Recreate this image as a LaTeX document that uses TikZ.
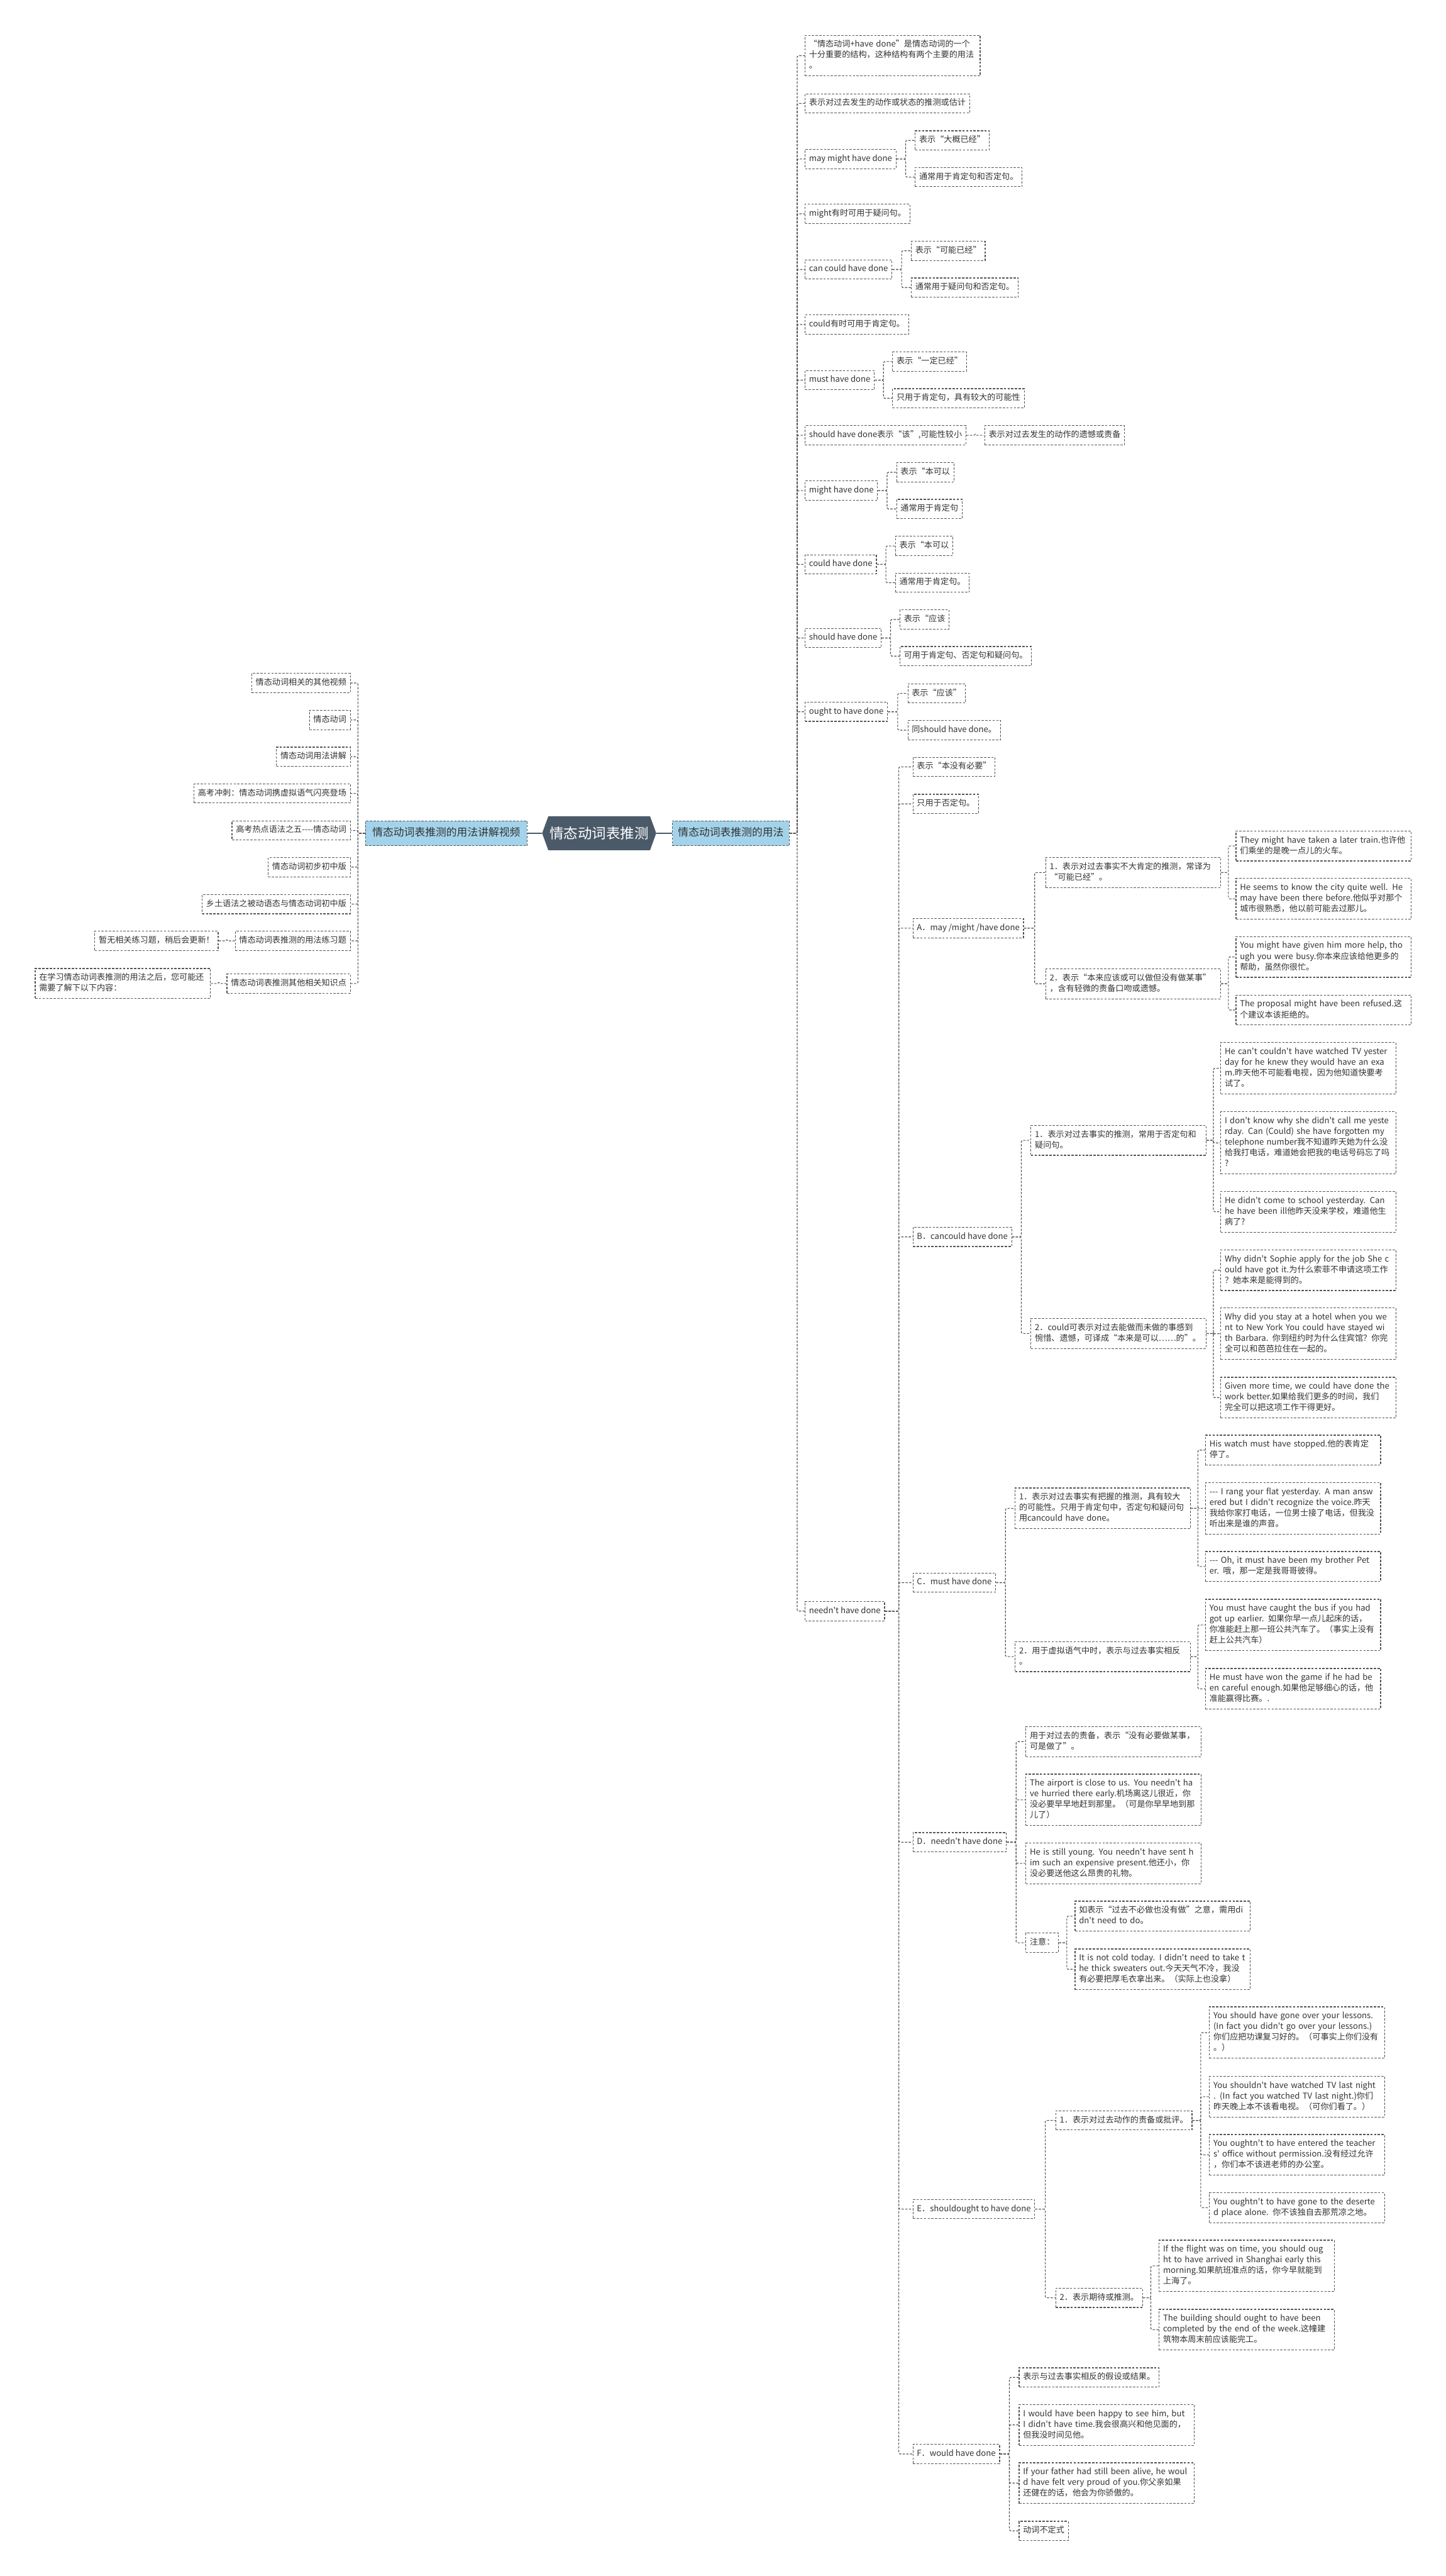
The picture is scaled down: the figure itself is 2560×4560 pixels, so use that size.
\documentclass[tikz,border=0pt]{standalone}
\usepackage{fontspec}
\setmainfont{Noto Sans CJK SC}[Ligatures=TeXOff]
\usepackage{tikz}
\usetikzlibrary{shapes,calc,positioning}

\definecolor{rootgray}{HTML}{4B5A69}
\definecolor{bluefill}{HTML}{A3D3EA}
\definecolor{linegray}{HTML}{555555}
\definecolor{textgray}{HTML}{333333}

\tikzstyle{leaf} = [rectangle,draw=linegray,line width=1.3pt,dash pattern=on 4pt off 2.5pt,
  text=textgray,inner xsep=7pt,inner ysep=7.5pt,align=left,
  font=\fontsize{14.6}{19}\selectfont,
  execute at begin node=\strut,execute at end node=\strut]
\tikzstyle{wide} = [text width=296pt]
\tikzstyle{topic} = [leaf,fill=bluefill,minimum height=44pt,inner xsep=10pt,
  font=\fontsize{18.7}{22}\selectfont]
\tikzstyle{rootnode} = [signal,signal to=west and east,signal pointer angle=140,
  fill=rootgray,text=white,minimum width=202pt,minimum height=60pt,inner xsep=0pt,
  font=\fontsize{25}{30}\selectfont]
\tikzstyle{rootlink} = [draw=rootgray,line width=2.5pt]
\tikzstyle{link} = [draw=linegray,line width=1.3pt,dash pattern=on 4pt off 2.5pt,
  rounded corners=2pt]
\tikzstyle{elbow} = [to path={-| ($(\tikztostart)!.5!(\tikztotarget)$) |- (\tikztotarget)}]

\begin{document}
\begin{tikzpicture}[x=1pt,y=-1pt]
\useasboundingbox[fill=white] (0,0) rectangle (2560,4560);

% centre
\node[rootnode] (root) at (1061,1475) {情态动词表推测};
\node[topic,anchor=west] (usage) at (1190,1475) {情态动词表推测的用法};
\node[topic,anchor=east,minimum width=286pt] (video) at (934,1475) {情态动词表推测的用法讲解视频};
\draw[rootlink] (root.east) -- (usage.west);
\draw[rootlink] (root.west) -- (video.east);

% left side
\begin{scope}[every node/.style={leaf,anchor=east}]
\node (vid1) at (621,1209) {情态动词相关的其他视频};
\node (vid2) at (621,1274.5) {情态动词};
\node (vid3) at (621,1339.5) {情态动词用法讲解};
\node (vid4) at (621,1404.5) {高考冲刺：情态动词携虚拟语气闪亮登场};
\node (vid5) at (621,1470) {高考热点语法之五-{}-{}-{}-情态动词};
\node (vid6) at (621,1535) {情态动词初步初中版};
\node (vid7) at (621,1600.5) {乡土语法之被动语态与情态动词初中版};
\node (drill) at (621,1665.5) {情态动词表推测的用法练习题};
\node (more) at (621,1741) {情态动词表推测其他相关知识点};
\node (nodrill) at (387,1665.5) {暂无相关练习题，稍后会更新！};
\node[wide] (learn) at (373,1741) {在学习情态动词表推测的用法之后，您可能还\\需要了解下以下内容：};
\end{scope}
\foreach \c in {vid1,vid2,vid3,vid4,vid5,vid6,vid7,drill,more}
  \draw[link] (video.west) to[elbow] (\c.east);
\draw[link] (drill.west) to[elbow] (nodrill.east);
\draw[link] (more.west) to[elbow] (learn.east);

% right side, first level
\begin{scope}[every node/.style={leaf,anchor=west}]
\node[wide] (intro) at (1425,98.5) {“情态动词+have done”是情态动词的一个\\十分重要的结构，这种结构有两个主要的用法\\。};
\node (estim) at (1425,183) {表示对过去发生的动作或状态的推测或估计};
\node (may) at (1425,281.5) {may might have done};
\node (mightq) at (1425,378.5) {might有时可用于疑问句。};
\node (can) at (1425,477) {can could have done};
\node (couldp) at (1425,574.5) {could有时可用于肯定句。};
\node (must) at (1425,673) {must have done};
\node (should) at (1425,770.5) {should have done表示“该”,可能性较小};
\node (mightb) at (1425,868.5) {might have done};
\node (couldb) at (1425,999) {could have done};
\node (shouldb) at (1425,1129.5) {should have done};
\node (ought) at (1425,1260) {ought to have done};
\node (needn) at (1425,2852) {needn't have done};

\node (mayA) at (1620,248.5) {表示“大概已经”};
\node (mayB) at (1620,313.5) {通常用于肯定句和否定句。};
\node (canA) at (1613,444) {表示“可能已经”};
\node (canB) at (1613,509) {通常用于疑问句和否定句。};
\node (mustA) at (1580,640) {表示“一定已经”};
\node (mustB) at (1580,705) {只用于肯定句，具有较大的可能性};
\node (shouldA) at (1743,770.5) {表示对过去发生的动作的遗憾或责备};
\node (mightbA) at (1587,836) {表示“本可以};
\node (mightbB) at (1587,901) {通常用于肯定句};
\node (couldbA) at (1585,966.5) {表示“本可以};
\node (couldbB) at (1585,1031.5) {通常用于肯定句。};
\node (shouldbA) at (1593,1096.5) {表示“应该};
\node (shouldbB) at (1593,1161.5) {可用于肯定句、否定句和疑问句。};
\node (oughtA) at (1607,1227.5) {表示“应该”};
\node (oughtB) at (1607,1292.5) {同should have done。};

% needn't have done
\node (noneed) at (1616,1357.5) {表示“本没有必要”};
\node (negonly) at (1616,1423) {只用于否定句。};
\node (pA) at (1616,1643) {A．may /might /have done};
\node (pB) at (1616,2189.5) {B．cancould have done};
\node (pC) at (1616,2801.5) {C．must have done};
\node (pD) at (1616,3261) {D．needn't have done};
\node (pE) at (1616,3910.5) {E．shouldought to have done};
\node (pF) at (1616,4344) {F．would have done};

% A
\node[wide] (pA1) at (1851,1544.5) {1．表示对过去事实不大肯定的推测，常译为\\“可能已经”。};
\node[wide] (pA2) at (1851,1741.5) {2．表示“本来应该或可以做但没有做某事”\\，含有轻微的责备口吻或遗憾。};
\node[wide] (exA1) at (2188,1497.5) {They might have taken a later train.也许他\\们乘坐的是晚一点儿的火车。};
\node[wide] (exA2) at (2188,1591) {He seems to know the city quite well. He\\may have been there before.他似乎对那个\\城市很熟悉，他以前可能去过那儿。};
\node[wide] (exA3) at (2188,1694) {You might have given him more help, tho\\ugh you were busy.你本来应该给他更多的\\帮助，虽然你很忙。};
\node[wide] (exA4) at (2188,1788) {The proposal might have been refused.这\\个建议本该拒绝的。};

% B
\node[wide] (pB1) at (1825,2018.5) {1．表示对过去事实的推测，常用于否定句和\\疑问句。};
\node[wide] (pB2) at (1825,2360.5) {2．could可表示对过去能做而未做的事感到\\惋惜、遗憾，可译成“本来是可以……的”。};
\node[wide] (exB1) at (2161,1891) {He can't couldn't have watched TV yester\\day for he knew they would have an exa\\m.昨天他不可能看电视，因为他知道快要考\\试了。};
\node[wide] (exB2) at (2161,2023) {I don't know why she didn't call me yeste\\rday. Can (Could) she have forgotten my\\telephone number我不知道昨天她为什么没\\给我打电话，难道她会把我的电话号码忘了吗\\?};
\node[wide] (exB3) at (2161,2145) {He didn't come to school yesterday. Can\\he have been ill他昨天没来学校，难道他生\\病了?};
\node[wide] (exB4) at (2161,2248.5) {Why didn't Sophie apply for the job She c\\ould have got it.为什么索菲不申请这项工作\\？她本来是能得到的。};
\node[wide] (exB5) at (2161,2361) {Why did you stay at a hotel when you we\\nt to New York You could have stayed wi\\th Barbara. 你到纽约时为什么住宾馆？你完\\全可以和芭芭拉住在一起的。};
\node[wide] (exB6) at (2161,2474) {Given more time, we could have done the\\ work better.如果给我们更多的时间，我们\\完全可以把这项工作干得更好。};

% C
\node[wide] (pC1) at (1797,2670) {1．表示对过去事实有把握的推测，具有较大\\的可能性。只用于肯定句中，否定句和疑问句\\用cancould have done。};
\node[wide] (pC2) at (1797,2932.5) {2．用于虚拟语气中时，表示与过去事实相反\\。};
\node[wide] (exC1) at (2134,2567) {His watch must have stopped.他的表肯定\\停了。};
\node[wide] (exC2) at (2134,2670) {-{}-{}- I rang your flat yesterday. A man answ\\ered but I didn't recognize the voice.昨天\\我给你家打电话，一位男士接了电话，但我没\\听出来是谁的声音。};
\node[wide] (exC3) at (2134,2773) {-{}-{}- Oh, it must have been my brother Pet\\er. 哦，那一定是我哥哥彼得。};
\node[wide] (exC4) at (2134,2876.5) {You must have caught the bus if you had\\got up earlier. 如果你早一点儿起床的话，\\你准能赶上那一班公共汽车了。（事实上没有\\赶上公共汽车）};
\node[wide] (exC5) at (2134,2989.5) {He must have won the game if he had be\\en careful enough.如果他足够细心的话，他\\准能赢得比赛。.};

% D
\node[wide] (exD1) at (1816,3083) {用于对过去的责备，表示“没有必要做某事，\\可是做了”。};
\node[wide] (exD2) at (1816,3186) {The airport is close to us. You needn't ha\\ve hurried there early.机场离这儿很近，你\\没必要早早地赶到那里。（可是你早早地到那\\儿了）};
\node[wide] (exD3) at (1816,3298.5) {He is still young. You needn't have sent h\\im such an expensive present.他还小，你\\没必要送他这么昂贵的礼物。};
\node (note) at (1816,3439) {注意：};
\node[wide] (exD4) at (1903,3392) {如表示“过去不必做也没有做”之意，需用di\\dn't need to do。};
\node[wide] (exD5) at (1903,3486) {It is not cold today. I didn't need to take t\\he thick sweaters out.今天天气不冷，我没\\有必要把厚毛衣拿出来。（实际上也没拿）};

% E
\node (pE1) at (1869,3753.5) {1．表示对过去动作的责备或批评。};
\node (pE2) at (1869,4067.5) {2．表示期待或推测。};
\node[wide] (exE1) at (2141,3598) {You should have gone over your lessons.\\(In fact you didn't go over your lessons.)\\你们应把功课复习好的。（可事实上你们没有\\。）};
\node[wide] (exE2) at (2141,3711.5) {You shouldn't have watched TV last night\\. (In fact you watched TV last night.)你们\\昨天晚上本不该看电视。（可你们看了。）};
\node[wide] (exE3) at (2141,3814.5) {You oughtn't to have entered the teacher\\s' office without permission.没有经过允许\\，你们本不该进老师的办公室。};
\node[wide] (exE4) at (2141,3908) {You oughtn't to have gone to the deserte\\d place alone. 你不该独自去那荒凉之地。};
\node[wide] (exE5) at (2052,4011) {If the flight was on time, you should oug\\ht to have arrived in Shanghai early this\\morning.如果航班准点的话，你今早就能到\\上海了。};
\node[wide] (exE6) at (2052,4124) {The building should ought to have been\\completed by the end of the week.这幢建\\筑物本周末前应该能完工。};

% F
\node (exF1) at (1804,4208.5) {表示与过去事实相反的假设或结果。};
\node[wide] (exF2) at (1804,4292.5) {I would have been happy to see him, but\\I didn't have time.我会很高兴和他见面的，\\但我没时间见他。};
\node[wide] (exF3) at (1804,4395.5) {If your father had still been alive, he woul\\d have felt very proud of you.你父亲如果\\还健在的话，他会为你骄傲的。};
\node (exF4) at (1804,4480) {动词不定式};
\end{scope}

% connectors
\foreach \c in {intro,estim,may,mightq,can,couldp,must,should,mightb,couldb,shouldb,ought,needn}
  \draw[link] (usage.east) to[elbow] (\c.west);
\foreach \p/\c in {may/mayA,may/mayB,can/canA,can/canB,must/mustA,must/mustB,
  should/shouldA,mightb/mightbA,mightb/mightbB,couldb/couldbA,couldb/couldbB,
  shouldb/shouldbA,shouldb/shouldbB,ought/oughtA,ought/oughtB}
  \draw[link] (\p.east) to[elbow] (\c.west);
\foreach \c in {noneed,negonly,pA,pB,pC,pD,pE,pF}
  \draw[link] (needn.east) to[elbow] (\c.west);
\foreach \p/\c in {pA/pA1,pA/pA2,pA1/exA1,pA1/exA2,pA2/exA3,pA2/exA4,
  pB/pB1,pB/pB2,pB1/exB1,pB1/exB2,pB1/exB3,pB2/exB4,pB2/exB5,pB2/exB6,
  pC/pC1,pC/pC2,pC1/exC1,pC1/exC2,pC1/exC3,pC2/exC4,pC2/exC5,
  pD/exD1,pD/exD2,pD/exD3,pD/note,note/exD4,note/exD5,
  pE/pE1,pE/pE2,pE1/exE1,pE1/exE2,pE1/exE3,pE1/exE4,pE2/exE5,pE2/exE6,
  pF/exF1,pF/exF2,pF/exF3,pF/exF4}
  \draw[link] (\p.east) to[elbow] (\c.west);
\end{tikzpicture}
\end{document}
